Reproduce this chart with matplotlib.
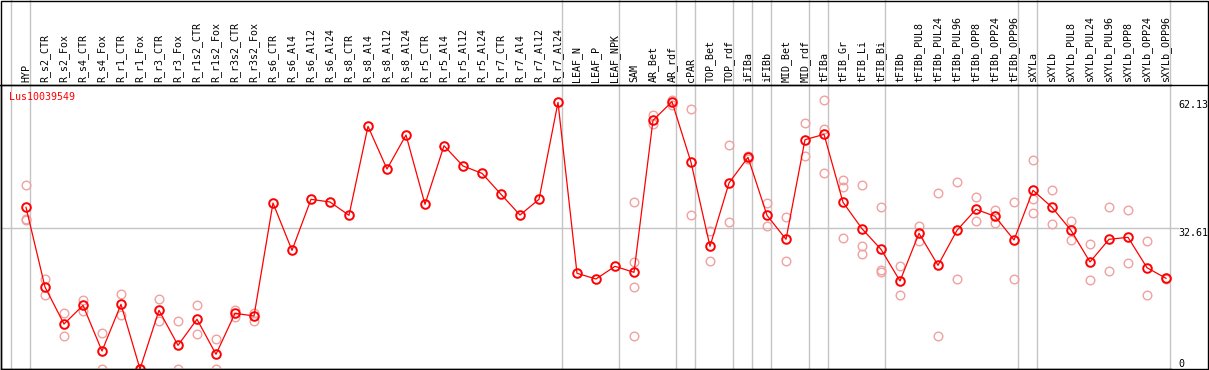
import matplotlib
matplotlib.use("Agg")
import matplotlib.pyplot as plt
from matplotlib.lines import Line2D
from matplotlib.patches import Rectangle

gene = "Lus10039549"

categories = [
    "HYP", "R_s2_CTR", "R_s2_Fox", "R_s4_CTR", "R_s4_Fox", "R_r1_CTR", "R_r1_Fox",
    "R_r3_CTR", "R_r3_Fox", "R_r1s2_CTR", "R_r1s2_Fox", "R_r3s2_CTR", "R_r3s2_Fox",
    "R_s6_CTR", "R_s6_Al4", "R_s6_Al12", "R_s6_Al24", "R_s8_CTR", "R_s8_Al4",
    "R_s8_Al12", "R_s8_Al24", "R_r5_CTR", "R_r5_Al4", "R_r5_Al12", "R_r5_Al24",
    "R_r7_CTR", "R_r7_Al4", "R_r7_Al12", "R_r7_Al24", "LEAF_N", "LEAF_P", "LEAF_NPK",
    "SAM", "AR_Bet", "AR_rdf", "cPAR", "TOP_Bet", "TOP_rdf", "iFIBa", "iFIBb",
    "MID_Bet", "MID_rdf", "tFIBa", "tFIB_Gr", "tFIB_Li", "tFIB_Bi", "tFIBb",
    "tFIBb_PUL8", "tFIBb_PUL24", "tFIBb_PUL96", "tFIBb_OPP8", "tFIBb_OPP24",
    "tFIBb_OPP96", "sXYLa", "sXYLb", "sXYLb_PUL8", "sXYLb_PUL24", "sXYLb_PUL96",
    "sXYLb_OPP8", "sXYLb_OPP24", "sXYLb_OPP96",
]

# group sizes (columns between separators)
group_sizes = [1, 28, 3, 3, 1, 2, 1, 1, 2, 1, 3, 7, 1, 7]

means = [
    37.28, 18.90, 10.37, 14.68, 4.15, 14.91, 0.0, 13.53, 5.46, 11.46, 3.39, 12.84, 12.22,
    38.27, 27.36, 39.12, 38.50, 35.43, 55.95, 46.10, 53.94, 37.97, 51.48, 46.80, 45.11,
    40.27, 35.50, 39.12, 61.48, 22.06, 20.75, 23.67, 22.29, 57.33, 61.62, 47.65, 28.28,
    42.88, 48.80, 35.43, 29.90, 52.86, 54.10, 38.43, 32.34, 27.59, 20.29, 31.28, 23.91,
    31.97, 36.81, 35.20, 29.74, 41.19, 37.28, 31.97, 24.67, 29.90, 30.36, 23.35, 20.91,
]

replicates = [
    [42.35, 34.65, 34.35], [20.68, 16.99], [12.84, 7.54], [15.91, 13.30], [8.23, 0.0],
    [17.22, 12.52], [0.0, 0.0], [16.07, 11.00], [11.13, 0.0], [14.68, 8.07], [6.85, 0.0],
    [13.60, 12.06], [12.84, 11.07],
    [], [], [], [], [], [], [], [], [], [], [], [], [], [], [], [], [], [], [],
    [38.43, 24.60, 18.90, 7.54], [58.55, 56.48], [62.13, 60.90], [59.87, 35.50],
    [31.74, 24.83], [51.57, 33.82], [49.10, 48.48], [38.20, 32.90], [34.97, 24.83],
    [56.64, 49.10], [62.13, 55.33, 45.18], [43.57, 41.96, 30.20], [42.35, 28.35, 26.44],
    [37.28, 22.82, 22.43], [23.74, 16.99], [32.96, 29.44], [40.50, 7.54], [43.04, 20.75],
    [39.58, 34.05], [36.58, 33.59], [38.43, 20.75], [48.11, 39.26, 35.89], [41.19, 33.36],
    [34.05, 29.74], [28.75, 20.45], [37.28, 22.59], [36.58, 24.37], [29.44, 16.99],
    [21.05, 20.68],
]

y_ticks = [62.13, 32.61, 0]

W, H = 1209, 370
fig = plt.figure(figsize=(W / 100, H / 100), dpi=100)
fig.patch.set_facecolor("white")

# plot region in pixels
left_px, right_px, top_px, bottom_px = 1, 1171, 85, 369
ax = fig.add_axes([left_px / W, (H - bottom_px) / H,
                   (right_px - left_px) / W, (bottom_px - top_px) / H])
col_w = 19.0
x0_px = 26.0
ax.set_xlim((left_px - x0_px) / col_w, (right_px - x0_px) / col_w)
px_per_unit = (bottom_px - 99.5) / 62.13
ax.set_ylim(0, (bottom_px - top_px) / px_per_unit)

mono = "DejaVu Sans Mono"
fs = 7.2
gray = "#c4c4c4"

xs = list(range(len(categories)))

# replicate points
rx, ry = [], []
for i, reps in enumerate(replicates):
    for v in reps:
        rx.append(i)
        ry.append(v)
ax.plot(rx, ry, linestyle="none", marker="o", ms=6.2, mfc="none",
        mec="#f0a0a0", mew=1.0, zorder=3)

# mean line and markers
ax.plot(xs, means, color="red", lw=0.9, zorder=4)
ax.plot(xs, means, linestyle="none", marker="o", ms=6.2, mfc="none",
        mec="red", mew=1.4, zorder=5)

# horizontal reference line
ax.axhline(y_ticks[1], xmin=0, xmax=(1178 - left_px) / (right_px - left_px),
           color=gray, lw=1.0, zorder=1, clip_on=False)

# group separators
ext = bottom_px / (bottom_px - top_px)
sep_positions = [-1 + 4.5 / col_w]
acc = 0
for g in group_sizes:
    acc += g
    sep_positions.append(acc - 1 + 4.5 / col_w)
for sx in sep_positions:
    ax.axvline(sx, ymin=0, ymax=ext, color=gray, lw=1.0, zorder=1, clip_on=False)

# category labels at top
ax.xaxis.tick_top()
ax.set_xticks(xs)
ax.set_xticklabels(categories, rotation=90, fontsize=fs, family=mono,
                   ha="center", va="bottom")
ax.tick_params(axis="x", length=0, pad=2)
ax.set_yticks([])

# value labels at right
ax.text(1.006, y_ticks[0], f"{y_ticks[0]:.2f}", transform=ax.get_yaxis_transform(),
        ha="left", va="top", fontsize=fs, family=mono, clip_on=False)
ax.text(1.006, y_ticks[1], f"{y_ticks[1]:.2f}", transform=ax.get_yaxis_transform(),
        ha="left", va="top", fontsize=fs, family=mono, clip_on=False)
ax.text(1.006, y_ticks[2], f"{y_ticks[2]}", transform=ax.get_yaxis_transform(),
        ha="left", va="bottom", fontsize=fs, family=mono, clip_on=False)

# gene name
ax.text(0.0068, 0.958, gene, transform=ax.transAxes, color="red",
        fontsize=fs, family=mono, ha="left", va="center", zorder=6)

for s in ["left", "bottom", "top"]:
    ax.spines[s].set_color("black")
    ax.spines[s].set_linewidth(1.0)
ax.spines["right"].set_visible(False)

# outer frame and header line across full width
fig.add_artist(Rectangle((1 / W, (H - 369) / H), (1208 - 1) / W, 368 / H,
                         transform=fig.transFigure, fill=False, ec="black", lw=1.0))
fig.add_artist(Line2D([0, 1], [(H - top_px) / H] * 2, transform=fig.transFigure,
                      color="black", lw=1.0))

fig.savefig("out.png", dpi=100, facecolor="white")
